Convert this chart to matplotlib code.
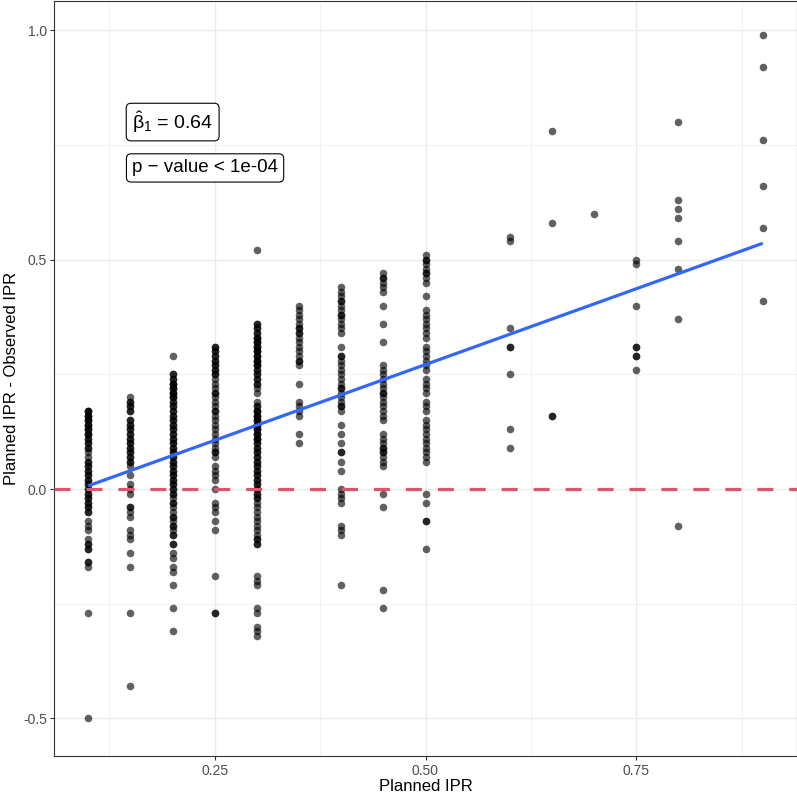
import numpy as np
import matplotlib
matplotlib.use("Agg")
import matplotlib.pyplot as plt

plt.rcParams['font.family'] = ['Liberation Sans', 'DejaVu Sans']
plt.rcParams['mathtext.fontset'] = 'custom'
plt.rcParams['mathtext.rm'] = 'Liberation Sans'
plt.rcParams['mathtext.it'] = 'Liberation Sans'
plt.rcParams['mathtext.bf'] = 'Liberation Sans:bold'
plt.rcParams['axes.unicode_minus'] = False

# ---- data: observed differences per planned IPR level ----
col_010 = [0.17, 0.17, 0.17, 0.16, 0.16, 0.16, 0.15, 0.15, 0.15, 0.14, 0.14, 0.14,
           0.13, 0.13, 0.13, 0.12, 0.12, 0.12, 0.11, 0.11, 0.10, 0.10, 0.09, 0.09,
           0.08, 0.07, 0.06, 0.06, 0.05, 0.05, 0.04, 0.04, 0.03, 0.03, 0.02, 0.02,
           0.01, 0.01, 0.00, 0.00, -0.01, -0.01, -0.02, -0.02, -0.03, -0.03, -0.04,
           -0.04, -0.05, -0.05, -0.07, -0.08, -0.09, -0.11, -0.12, -0.12, -0.13,
           -0.13, -0.16, -0.16, -0.17, -0.27, -0.50]
col_015 = [0.20, 0.19, 0.19, 0.18, 0.18, 0.17, 0.17, 0.15, 0.15, 0.14, 0.14, 0.13,
           0.13, 0.12, 0.12, 0.11, 0.11, 0.10, 0.10, 0.09, 0.09, 0.08, 0.08, 0.07,
           0.07, 0.06, 0.06, 0.05, 0.03, 0.01, 0.00, -0.01, -0.04, -0.04, -0.05,
           -0.06, -0.09, -0.10, -0.11, -0.14, -0.17, -0.27, -0.43]
col_020 = [0.29, 0.25, 0.25, 0.24, 0.24, 0.23, 0.23, 0.23, 0.22, 0.22, 0.22, 0.21,
           0.21, 0.21, 0.20, 0.20, 0.20, 0.19, 0.19, 0.18, 0.18, 0.17, 0.17, 0.16,
           0.16, 0.15, 0.15, 0.14, 0.14, 0.13, 0.13, 0.12, 0.12, 0.11, 0.11, 0.10,
           0.10, 0.09, 0.09, 0.08, 0.08, 0.07, 0.07, 0.06, 0.06, 0.05, 0.05, 0.04,
           0.04, 0.03, 0.03, 0.02, 0.02, 0.01, 0.01, 0.00, 0.00, -0.01, -0.01, -0.02,
           -0.03, -0.03, -0.04, -0.05, -0.06, -0.06, -0.07, -0.08, -0.08, -0.09,
           -0.10, -0.10, -0.12, -0.12, -0.14, -0.15, -0.17, -0.18, -0.21, -0.26, -0.31]
col_025 = [0.31, 0.31, 0.30, 0.30, 0.29, 0.29, 0.28, 0.28, 0.27, 0.27, 0.26, 0.26,
           0.25, 0.25, 0.24, 0.23, 0.22, 0.21, 0.21, 0.20, 0.19, 0.18, 0.17, 0.17,
           0.16, 0.15, 0.14, 0.13, 0.12, 0.11, 0.10, 0.09, 0.08, 0.08, 0.07, 0.05,
           0.04, 0.03, 0.02, 0.00, -0.03, -0.04, -0.05, -0.07, -0.09, -0.19, -0.27,
           -0.27]
col_030 = [0.52, 0.36, 0.36, 0.35, 0.35, 0.34, 0.34, 0.33, 0.33, 0.33, 0.32, 0.32,
           0.32, 0.31, 0.31, 0.31, 0.30, 0.30, 0.30, 0.29, 0.29, 0.29, 0.28, 0.28,
           0.28, 0.27, 0.27, 0.27, 0.26, 0.26, 0.25, 0.25, 0.24, 0.24, 0.23, 0.23,
           0.22, 0.21, 0.19, 0.18, 0.18, 0.17, 0.17, 0.17, 0.16, 0.16, 0.16, 0.15,
           0.15, 0.15, 0.14, 0.14, 0.14, 0.13, 0.13, 0.13, 0.12, 0.12, 0.12, 0.11,
           0.11, 0.11, 0.10, 0.10, 0.09, 0.09, 0.08, 0.08, 0.07, 0.07, 0.06, 0.06,
           0.05, 0.05, 0.04, 0.04, 0.03, 0.03, 0.02, 0.02, 0.01, 0.01, 0.00, 0.00,
           -0.01, -0.01, -0.02, -0.02, -0.03, -0.04, -0.05, -0.06, -0.07, -0.08,
           -0.09, -0.10, -0.11, -0.11, -0.12, -0.12, -0.19, -0.20, -0.21, -0.26,
           -0.27, -0.30, -0.31, -0.32]
col_035 = [0.40, 0.39, 0.38, 0.37, 0.36, 0.35, 0.35, 0.34, 0.34, 0.33, 0.32, 0.31,
           0.30, 0.29, 0.28, 0.28, 0.27, 0.23, 0.19, 0.18, 0.17, 0.16, 0.12, 0.10]
col_040 = [0.44, 0.43, 0.42, 0.41, 0.41, 0.40, 0.39, 0.38, 0.38, 0.37, 0.36, 0.35,
           0.34, 0.31, 0.29, 0.29, 0.28, 0.27, 0.26, 0.25, 0.24, 0.23, 0.22, 0.22,
           0.21, 0.20, 0.19, 0.18, 0.18, 0.17, 0.14, 0.12, 0.10, 0.08, 0.08, 0.06,
           0.04, 0.00, -0.01, -0.02, -0.03, -0.08, -0.09, -0.10, -0.21]
col_045 = [0.47, 0.46, 0.46, 0.45, 0.44, 0.43, 0.40, 0.36, 0.32, 0.27, 0.26, 0.25,
           0.24, 0.23, 0.22, 0.21, 0.21, 0.20, 0.19, 0.18, 0.17, 0.16, 0.15, 0.12,
           0.11, 0.10, 0.09, 0.09, 0.08, 0.08, 0.07, 0.06, 0.05, -0.01, -0.04,
           -0.22, -0.26]
col_050 = [0.51, 0.50, 0.50, 0.49, 0.48, 0.47, 0.47, 0.46, 0.45, 0.42, 0.39, 0.38,
           0.37, 0.36, 0.35, 0.34, 0.33, 0.31, 0.30, 0.29, 0.28, 0.27, 0.26, 0.24,
           0.23, 0.22, 0.21, 0.19, 0.18, 0.17, 0.15, 0.14, 0.13, 0.12, 0.11, 0.10,
           0.09, 0.08, 0.07, 0.06, -0.01, -0.03, -0.07, -0.07, -0.13]
col_060 = [0.55, 0.54, 0.35, 0.31, 0.31, 0.25, 0.13, 0.09]
col_065 = [0.78, 0.58, 0.16, 0.16]
col_070 = [0.60]
col_075 = [0.50, 0.49, 0.40, 0.31, 0.31, 0.29, 0.29, 0.26]
col_080 = [0.80, 0.63, 0.61, 0.59, 0.54, 0.48, 0.37, -0.08]
col_090 = [0.99, 0.92, 0.76, 0.66, 0.57, 0.41]

planned_levels = [0.10, 0.15, 0.20, 0.25, 0.30, 0.35, 0.40, 0.45, 0.50,
                  0.60, 0.65, 0.70, 0.75, 0.80, 0.90]
columns = [col_010, col_015, col_020, col_025, col_030, col_035, col_040, col_045,
           col_050, col_060, col_065, col_070, col_075, col_080, col_090]

x_ticks = [0.25, 0.50, 0.75]
x_tick_labels = ["0.25", "0.50", "0.75"]
y_ticks = [-0.5, 0.0, 0.5, 1.0]
y_tick_labels = ["-0.5", "0.0", "0.5", "1.0"]
beta_label = r"$\hat{\beta}_{1}$ = 0.64"
p_label = "p \u2212 value < 1e-04"

x = np.concatenate([[lv] * len(c) for lv, c in zip(planned_levels, columns)])
y = np.concatenate([np.array(c, dtype=float) for c in columns])

# ---- figure ----
W, H = 797, 793
fig = plt.figure(figsize=(W / 100, H / 100), dpi=100)
ax = fig.add_axes([54.5 / W, 37 / H, (796.5 - 54.5) / W, (793 - 37 - 0.5) / H])

ax.set_xlim(0.06, 0.94)
ax.set_ylim(-0.582, 1.065)

# grid (theme_bw style)
ax.set_xticks([0.125, 0.375, 0.625, 0.875], minor=True)
ax.set_yticks([-0.25, 0.25, 0.75], minor=True)
ax.grid(which='major', color='#EBEBEB', linewidth=1.0, zorder=0)
ax.grid(which='minor', color='#EBEBEB', linewidth=0.5, zorder=0)
ax.set_axisbelow(True)

ax.scatter(x, y, s=30, color='black', alpha=0.62, linewidths=0, zorder=2)

# linear fit
slope, intercept = np.polyfit(x, y, 1)
xs = np.array([x.min(), x.max()])
ax.plot(xs, intercept + slope * xs, color='#3366FF', linewidth=2.3,
        solid_capstyle='butt', zorder=3)

ax.axhline(0, color='#DF536B', linewidth=2.3, linestyle=(0, (5, 5)), zorder=4)

ax.set_xticks(x_ticks)
ax.set_xticklabels(x_tick_labels)
ax.set_yticks(y_ticks)
ax.set_yticklabels(y_tick_labels)
ax.tick_params(which='major', length=3, width=0.8, color='#333333',
               labelsize=10, labelcolor='#4D4D4D', pad=2.5)
ax.tick_params(which='minor', length=0)
for sp in ax.spines.values():
    sp.set_color('#333333')
    sp.set_linewidth(0.8)

ax.set_xlabel("Planned IPR", fontsize=12, labelpad=1)
ax.set_ylabel("Planned IPR - Observed IPR", fontsize=12, labelpad=3)

box = dict(boxstyle='round,pad=0.3,rounding_size=0.25', facecolor='white',
           edgecolor='black', linewidth=0.8)
ax.text(0.152, 0.80, beta_label, fontsize=14, ha='left', va='center', bbox=box, zorder=5)
ax.text(0.152, 0.70, p_label, fontsize=13.5, ha='left', va='center', bbox=box, zorder=5)

fig.savefig("out.png", dpi=100)
